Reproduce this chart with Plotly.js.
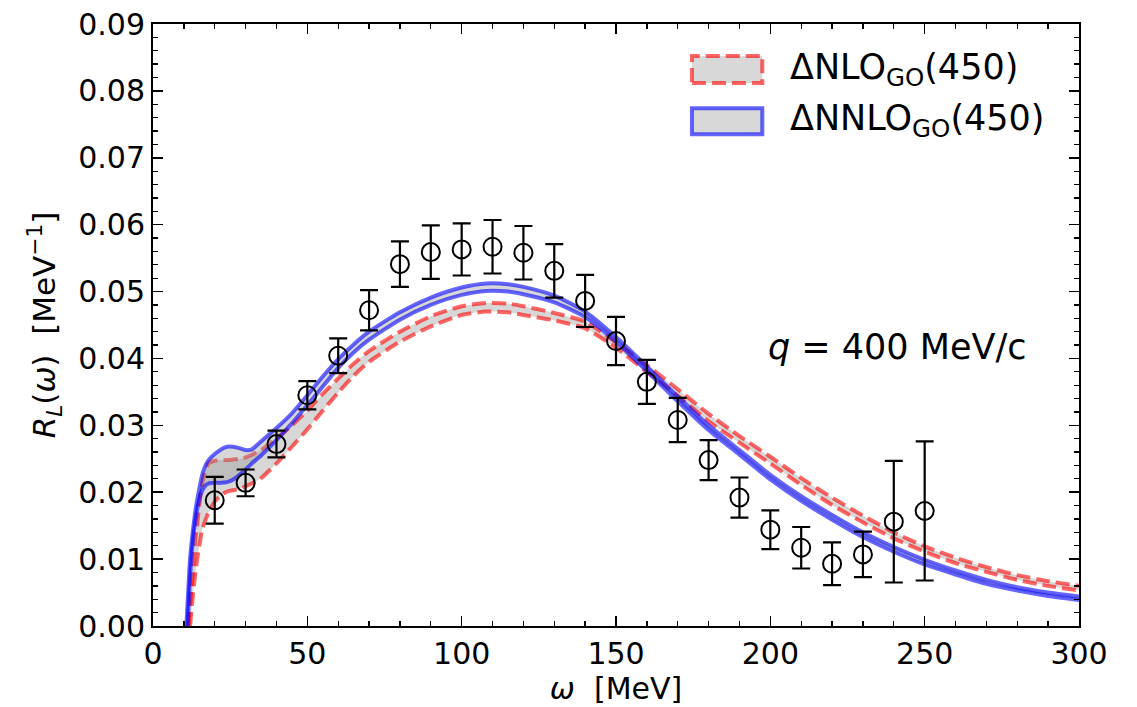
<!DOCTYPE html>
<html>
<head>
<meta charset="utf-8">
<script src="https://cdn.plot.ly/plotly-3.0.1.min.js"></script>
<style>html,body{margin:0;padding:0;background:#fff;}#chart{width:1137px;height:707px;}</style>
</head>
<body>
<div id="chart"></div>
<script>
// ---- data ----
const nnloHiW = [10.8, 11.5, 12, 13, 14, 15, 16, 17, 18, 20, 22, 24, 26, 28, 30, 32, 35, 40, 45, 50, 55, 60, 65, 70, 80, 90, 100, 108, 115, 120, 130, 140, 150, 160, 170, 180, 190, 200, 210, 220, 230, 240, 250, 260, 270, 280, 290, 300];
const nnloHi  = [0, 0.006, 0.010, 0.0145, 0.018, 0.0205, 0.0227, 0.0240, 0.0248, 0.0257, 0.0264, 0.0268, 0.0268, 0.0266, 0.0263, 0.0264, 0.0276, 0.0296, 0.0318, 0.0345, 0.0373, 0.0399, 0.0421, 0.0440, 0.0469, 0.0491, 0.0506, 0.0512, 0.0511, 0.0507, 0.0494, 0.0470, 0.0432, 0.0388, 0.0343, 0.0300, 0.0263, 0.0226, 0.0194, 0.0166, 0.0140, 0.0118, 0.0099, 0.0083, 0.0069, 0.0058, 0.0050, 0.0044];

const nnloLoW = [11.2, 12, 13, 14, 15, 16, 17, 18, 20, 22, 24, 26, 28, 30, 32, 35, 40, 45, 50, 55, 60, 65, 70, 80, 90, 100, 108, 115, 120, 130, 140, 150, 160, 170, 180, 190, 200, 210, 220, 230, 240, 250, 260, 270, 280, 290, 300];
const nnloLo  = [0, 0.007, 0.013, 0.0165, 0.019, 0.0203, 0.0210, 0.0213, 0.0214, 0.0214, 0.0215, 0.0219, 0.0226, 0.0234, 0.0243, 0.0255, 0.0278, 0.0303, 0.0330, 0.0358, 0.0386, 0.0409, 0.0428, 0.0458, 0.0480, 0.0495, 0.0501, 0.0500, 0.0496, 0.0484, 0.0462, 0.0425, 0.0381, 0.0336, 0.0293, 0.0256, 0.0219, 0.0187, 0.0159, 0.0133, 0.0111, 0.0092, 0.0077, 0.0063, 0.0053, 0.0045, 0.0039];

const nloHiW = [11.5, 12.5, 13.5, 14.5, 15.5, 16.5, 18, 20, 22, 24, 26, 28, 30, 32, 35, 40, 45, 50, 55, 60, 65, 70, 80, 90, 100, 108, 115, 120, 130, 140, 150, 160, 170, 180, 190, 200, 210, 220, 230, 240, 250, 260, 270, 280, 290, 300];
const nloHi  = [0, 0.006, 0.012, 0.016, 0.020, 0.0225, 0.0243, 0.0247, 0.0248, 0.0248, 0.0249, 0.0250, 0.0252, 0.0256, 0.0263, 0.0280, 0.0300, 0.0322, 0.0347, 0.0370, 0.0392, 0.0411, 0.0440, 0.0463, 0.0478, 0.0483, 0.0482, 0.0478, 0.0468, 0.0455, 0.0424, 0.0390, 0.0354, 0.0317, 0.0284, 0.0253, 0.0221, 0.0192, 0.0165, 0.0140, 0.0119, 0.0102, 0.0088, 0.0076, 0.0067, 0.0060];

const nloLoW = [12, 13, 14, 15, 16, 18, 20, 22, 24, 26, 28, 30, 32, 35, 40, 45, 50, 55, 60, 65, 70, 80, 90, 100, 108, 115, 120, 130, 140, 150, 160, 170, 180, 190, 200, 210, 220, 230, 240, 250, 260, 270, 280, 290, 300];
const nloLo  = [0, 0.005, 0.009, 0.012, 0.0145, 0.0170, 0.0186, 0.0196, 0.0201, 0.0203, 0.0205, 0.0209, 0.0213, 0.0221, 0.0243, 0.0268, 0.0294, 0.0322, 0.0349, 0.0374, 0.0395, 0.0425, 0.0448, 0.0465, 0.0470, 0.0469, 0.0465, 0.0457, 0.0445, 0.0416, 0.0380, 0.0344, 0.0306, 0.0274, 0.0243, 0.0211, 0.0181, 0.0155, 0.0131, 0.0111, 0.0094, 0.0081, 0.0069, 0.0060, 0.0053];

const expW   = [20, 30, 40, 50, 60, 70, 80, 90, 100, 110, 120, 130, 140, 150, 160, 170, 180, 190, 200, 210, 220, 230, 240, 250];
const expR   = [0.0188, 0.0214, 0.0272, 0.0345, 0.0404, 0.0472, 0.0541, 0.0559, 0.0563, 0.0567, 0.0558, 0.0531, 0.0486, 0.0426, 0.0365, 0.0308, 0.0248, 0.0192, 0.0144, 0.0117, 0.0093, 0.0107, 0.0156, 0.0172];
const expErr = [0.0035, 0.0020, 0.0020, 0.0021, 0.0026, 0.0030, 0.0034, 0.0040, 0.0039, 0.0040, 0.0040, 0.0040, 0.0039, 0.0036, 0.0033, 0.0033, 0.0030, 0.0030, 0.0029, 0.0031, 0.0032, 0.0034, 0.0091, 0.0104];

const xTicks = [0, 50, 100, 150, 200, 250, 300];
const legendLabels = ['ΔNLO<sub>GO</sub>(450)', 'ΔNNLO<sub>GO</sub>(450)'];
const annotationText = '<i>q</i> = 400 MeV/c';

// ---- styles ----
const FONT = 'DejaVu Sans, sans-serif';
const RED = 'rgba(255,0,0,0.6)';
const BLUE = 'rgba(0,0,255,0.6)';
const BAND = 'rgba(150,150,150,0.38)';
const DASH = '14px,6px';

const traces = [
  {x: nloLoW, y: nloLo, mode: 'lines', line: {color: RED, width: 4, dash: DASH, shape: 'spline', smoothing: 0.6}, hoverinfo: 'skip', showlegend: false},
  {x: nloHiW, y: nloHi, mode: 'lines', fill: 'tonexty', fillcolor: BAND, line: {color: RED, width: 4, dash: DASH, shape: 'spline', smoothing: 0.6}, hoverinfo: 'skip', showlegend: false},
  {x: nnloLoW, y: nnloLo, mode: 'lines', line: {color: BLUE, width: 4, shape: 'spline', smoothing: 0.6}, hoverinfo: 'skip', showlegend: false},
  {x: nnloHiW, y: nnloHi, mode: 'lines', fill: 'tonexty', fillcolor: BAND, line: {color: BLUE, width: 4, shape: 'spline', smoothing: 0.6}, hoverinfo: 'skip', showlegend: false},
  {x: expW, y: expR, mode: 'markers', marker: {symbol: 'circle-open', size: 18, color: 'black', line: {width: 2, color: 'black'}},
   error_y: {type: 'data', array: expErr, visible: true, color: 'black', thickness: 2.2, width: 9}, showlegend: false}
];

const axisCommon = {
  showgrid: false, zeroline: false, showline: true, linecolor: 'black', linewidth: 2,
  mirror: 'allticks', ticks: 'inside', ticklen: 10, tickwidth: 1.6, tickcolor: 'black',
  tickfont: {family: FONT, size: 30, color: 'black'}
};

const layout = {
  width: 1137, height: 707,
  margin: {l: 153, r: 58, t: 24, b: 81},
  paper_bgcolor: 'white', plot_bgcolor: 'white',
  font: {family: FONT, color: 'black'},
  xaxis: Object.assign({}, axisCommon, {
    range: [0, 300], tickvals: xTicks, ticktext: xTicks.map(String),
    minor: {dtick: 10, ticklen: 5, tickwidth: 1.3, tickcolor: 'black', ticks: 'inside'},
    title: {text: '<i>ω</i>  [MeV]', font: {family: FONT, size: 30, color: 'black'}, standoff: 4}
  }),
  yaxis: Object.assign({}, axisCommon, {
    range: [0, 0.09], dtick: 0.01, tickformat: '.2f',
    minor: {dtick: 0.002, ticklen: 5, tickwidth: 1.3, tickcolor: 'black', ticks: 'inside'},
    title: {text: '<i>R</i><sub><i>L</i></sub>(<i>ω</i>)  [MeV<sup>−1</sup>]', font: {family: FONT, size: 31, color: 'black'}, standoff: 13}
  }),
  shapes: [
    {type: 'rect', xref: 'paper', yref: 'paper', x0: 0.582, x1: 0.658, y0: 0.902, y1: 0.947,
     fillcolor: '#d8d8d8', line: {color: RED, width: 4, dash: DASH}},
    {type: 'rect', xref: 'paper', yref: 'paper', x0: 0.582, x1: 0.658, y0: 0.817, y1: 0.860,
     fillcolor: '#d8d8d8', line: {color: BLUE, width: 4}}
  ],
  annotations: [
    {xref: 'paper', yref: 'paper', x: 0.686, y: 0.924, xanchor: 'left', yanchor: 'middle', showarrow: false,
     text: legendLabels[0], font: {family: FONT, size: 35, color: 'black'}},
    {xref: 'paper', yref: 'paper', x: 0.686, y: 0.839, xanchor: 'left', yanchor: 'middle', showarrow: false,
     text: legendLabels[1], font: {family: FONT, size: 35, color: 'black'}},
    {xref: 'paper', yref: 'paper', x: 0.662, y: 0.4635, xanchor: 'left', yanchor: 'middle', showarrow: false,
     text: annotationText, font: {family: FONT, size: 35, color: 'black'}}
  ],
  showlegend: false
};

Plotly.newPlot('chart', traces, layout, {displayModeBar: false, staticPlot: true});
</script>
</body>
</html>
